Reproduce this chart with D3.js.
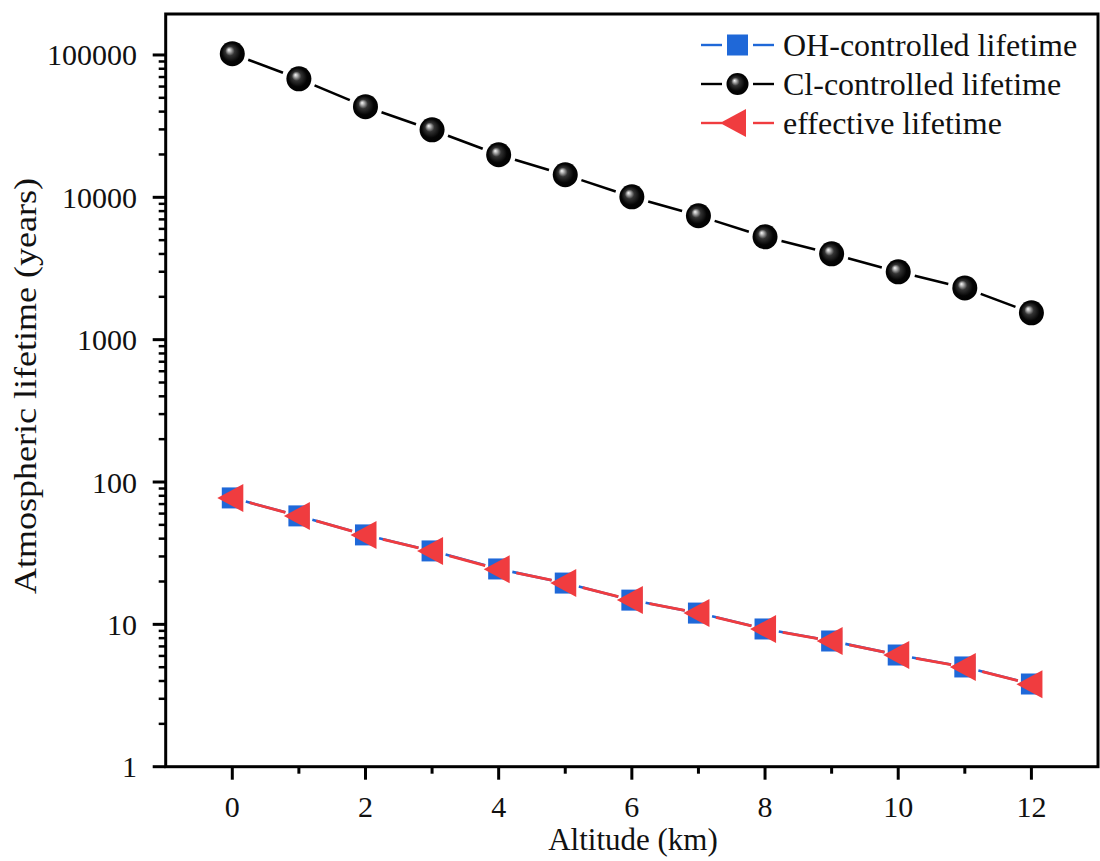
<!DOCTYPE html>
<html>
<head>
<meta charset="utf-8">
<script src="https://cdn.jsdelivr.net/npm/d3@7"></script>
<style>
  body { margin: 0; background: #fff; }
  text { font-family: "Liberation Serif", "Times New Roman", serif; fill: #111; }
</style>
</head>
<body>
<script>
// data
var altitude = [0, 1, 2, 3, 4, 5, 6, 7, 8, 9, 10, 11, 12];
var ohLifetime = [77.3, 57.8, 42.5, 32.8, 24.5, 19.5, 14.8, 12.0, 9.28, 7.64, 6.09, 5.02, 3.81];
var clLifetime = [102000, 68000, 43300, 29800, 19900, 14400, 10080, 7420, 5280, 4010, 2995, 2310, 1543];
var effLifetime = [77.2, 57.7, 42.4, 32.7, 24.4, 19.5, 14.8, 12.0, 9.26, 7.63, 6.08, 5.01, 3.80];
var xTicks = [0, 2, 4, 6, 8, 10, 12];
var yTicks = [1, 10, 100, 1000, 10000, 100000];
var legendNames = ["OH-controlled lifetime", "Cl-controlled lifetime", "effective lifetime"];

const W = 1100, H = 861;
var svg = d3.select("body").append("svg").attr("width", W).attr("height", H);

// plot frame (top is a reserved window name, so prefix everything)
var pLeft = 165.7, pRight = 1098, pTop = 14, pBottom = 766.7;

var x = d3.scaleLinear().domain([-1, 13]).range([pLeft, pRight]);
var y = d3.scaleLog().domain([1, 1.94e5]).range([pBottom, pTop]);

// gradient for the shiny spheres
var defs = svg.append("defs");
var grad = defs.append("radialGradient").attr("id", "ball")
  .attr("cx", "50%").attr("cy", "50%").attr("r", "55%")
  .attr("fx", "36%").attr("fy", "34%");
grad.append("stop").attr("offset", "0%").attr("stop-color", "#f8f8f8");
grad.append("stop").attr("offset", "12%").attr("stop-color", "#b8b8b8");
grad.append("stop").attr("offset", "34%").attr("stop-color", "#333");
grad.append("stop").attr("offset", "68%").attr("stop-color", "#050505");
grad.append("stop").attr("offset", "100%").attr("stop-color", "#000");

var blue = "#1f68d8", red = "#f03c3f";

// axes ticks
var xMinor = [1, 3, 5, 7, 9, 11];
svg.selectAll(".xt").data(xTicks).enter().append("line")
  .attr("x1", d => x(d)).attr("x2", d => x(d))
  .attr("y1", pBottom).attr("y2", pBottom + 13)
  .attr("stroke", "#000").attr("stroke-width", 3);
svg.selectAll(".xm").data(xMinor).enter().append("line")
  .attr("x1", d => x(d)).attr("x2", d => x(d))
  .attr("y1", pBottom).attr("y2", pBottom + 7)
  .attr("stroke", "#000").attr("stroke-width", 3);
svg.selectAll(".xl").data(xTicks).enter().append("text")
  .attr("x", d => x(d)).attr("y", 817)
  .attr("text-anchor", "middle").attr("font-size", 30)
  .text(d => d);

var yMinor = [];
yTicks.forEach(function(p) {
  for (var k = 2; k <= 9; k++) if (p * k < 1.94e5) yMinor.push(p * k);
});
svg.selectAll(".yt").data(yTicks).enter().append("line")
  .attr("x1", pLeft - 13).attr("x2", pLeft)
  .attr("y1", d => y(d)).attr("y2", d => y(d))
  .attr("stroke", "#000").attr("stroke-width", 3);
svg.selectAll(".ym").data(yMinor).enter().append("line")
  .attr("x1", pLeft - 7).attr("x2", pLeft)
  .attr("y1", d => y(d)).attr("y2", d => y(d))
  .attr("stroke", "#000").attr("stroke-width", 2.5);
svg.selectAll(".yl").data(yTicks).enter().append("text")
  .attr("x", 137).attr("y", d => y(d) + 10.5)
  .attr("text-anchor", "end").attr("font-size", 30)
  .text(d => d);

// frame
svg.append("rect").attr("x", pLeft).attr("y", pTop)
  .attr("width", pRight - pLeft).attr("height", pBottom - pTop)
  .attr("fill", "none").attr("stroke", "#000").attr("stroke-width", 3);

// axis titles
svg.append("text").attr("x", 633).attr("y", 850)
  .attr("text-anchor", "middle").attr("font-size", 31)
  .text("Altitude (km)");
svg.append("text")
  .attr("transform", "translate(36,386) rotate(-90)")
  .attr("text-anchor", "middle").attr("font-size", 31)
  .attr("textLength", 416).attr("lengthAdjust", "spacingAndGlyphs")
  .text("Atmospheric lifetime (years)");

// line segments with gaps around the markers (Origin style)
function gapSegments(vals, g1, g2) {
  var segs = [];
  for (var i = 0; i < vals.length - 1; i++) {
    var x1 = x(altitude[i]), y1 = y(vals[i]), x2 = x(altitude[i + 1]), y2 = y(vals[i + 1]);
    var len = Math.hypot(x2 - x1, y2 - y1), ux = (x2 - x1) / len, uy = (y2 - y1) / len;
    segs.push([x1 + ux * g1, y1 + uy * g1, x2 - ux * g2, y2 - uy * g2]);
  }
  return segs;
}
function drawSegs(vals, color, g1, g2, w) {
  svg.append("g").selectAll("line").data(gapSegments(vals, g1, g2)).enter().append("line")
    .attr("x1", d => d[0]).attr("y1", d => d[1]).attr("x2", d => d[2]).attr("y2", d => d[3])
    .attr("stroke", color).attr("stroke-width", w);
}

drawSegs(clLifetime, "#000", 17, 17, 2.6);
drawSegs(ohLifetime, blue, 14, 14, 2.6);
drawSegs(effLifetime, red, 18, 14, 2.8);

var tri = "M-15,0 L11,-14 L11,14 Z";

// OH squares
svg.append("g").selectAll("rect").data(altitude).enter().append("rect")
  .attr("x", d => x(d) - 10.5).attr("y", (d, i) => y(ohLifetime[i]) - 10.5)
  .attr("width", 21).attr("height", 21).attr("fill", blue);

// effective triangles
svg.append("g").selectAll("path").data(altitude).enter().append("path")
  .attr("transform", (d, i) => "translate(" + x(d) + "," + y(effLifetime[i]) + ")")
  .attr("d", tri).attr("fill", red);

// Cl spheres
svg.append("g").selectAll("circle").data(altitude).enter().append("circle")
  .attr("cx", d => x(d)).attr("cy", (d, i) => y(clLifetime[i]))
  .attr("r", 12.5).attr("fill", "url(#ball)");

// legend
var legRows = [45, 84, 123];
var legColors = [blue, "#000", red];
legRows.forEach(function(ly, i) {
  var g = svg.append("g");
  g.append("line").attr("x1", 701).attr("x2", 722).attr("y1", ly).attr("y2", ly)
    .attr("stroke", legColors[i]).attr("stroke-width", 2.4);
  g.append("line").attr("x1", 753).attr("x2", 774).attr("y1", ly).attr("y2", ly)
    .attr("stroke", legColors[i]).attr("stroke-width", 2.4);
  if (i === 0) {
    g.append("rect").attr("x", 727).attr("y", ly - 10.5).attr("width", 21).attr("height", 21).attr("fill", blue);
  } else if (i === 1) {
    g.append("circle").attr("cx", 737.5).attr("cy", ly).attr("r", 11).attr("fill", "url(#ball)");
  } else {
    g.append("path").attr("transform", "translate(735," + ly + ")").attr("d", tri).attr("fill", red);
  }
  g.append("text").attr("x", 783).attr("y", ly + 11).attr("font-size", 32)
    .text(legendNames[i]);
});
</script>
</body>
</html>
